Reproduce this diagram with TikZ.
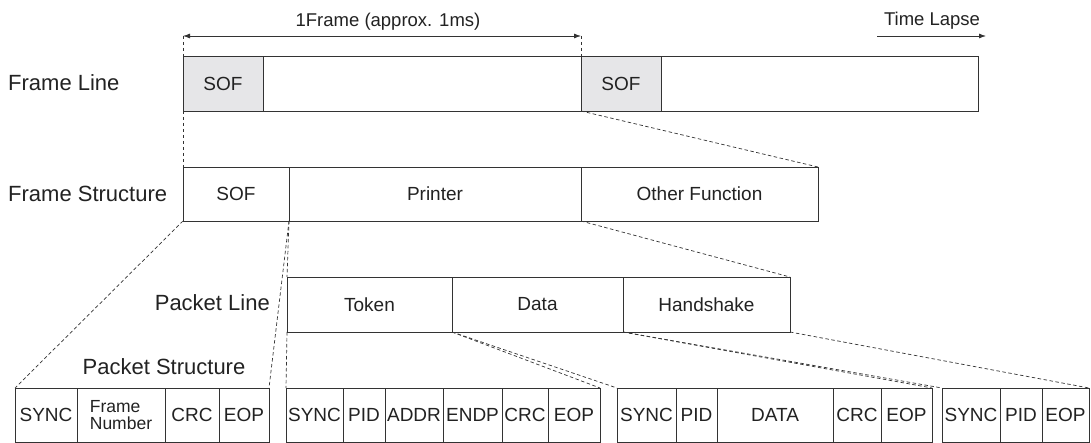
\documentclass[tikz,border=0pt]{standalone}
\usepackage{fontspec}
\setmainfont{Liberation Sans}
\usetikzlibrary{arrows.meta}
\definecolor{ln}{HTML}{333333}
\definecolor{sofgray}{HTML}{E6E6E8}
\definecolor{txt}{HTML}{222222}
\newcommand{\cellbox}[7][]{\node[box,#1,minimum width={#4pt-#3pt},minimum height={#6pt-#5pt}] (#2) at (#3,#5) {#7};}
\begin{document}
\begin{tikzpicture}[x=1pt,y=-1pt,
  box/.style={draw=ln,line width=0.8pt,inner sep=0pt,outer sep=0pt,anchor=north west,
    font=\fontsize{19}{19}\selectfont,text=txt},
  sof/.style={fill=sofgray},
  small/.style={align=left,font=\fontsize{17.5}{16.5}\selectfont},
  dsh/.style={draw=ln,line width=0.7pt,dash pattern=on 3.5pt off 2.5pt},
  lbl/.style={font=\fontsize{22}{22}\selectfont,text=txt,inner sep=0pt},
  hdr/.style={font=\fontsize{18.5}{18.5}\selectfont,text=txt,inner sep=0pt},
  arr/.style={draw=ln,line width=0.8pt}]
\clip (0,0) rectangle (1091,443);
\fill[white] (0,0) rectangle (1091,443);

% header
\node[hdr] (t1) at (388,22) {1Frame (approx. 1ms)};
\node[hdr] (t2) at (932,21) {Time Lapse};
\coordinate (fa) at (183,36);
\coordinate (fb) at (581,36);
\coordinate (tla) at (877,36);
\coordinate (tlb) at (986,36);
\draw[arr,{Latex[length=7pt,width=5pt]}-{Latex[length=7pt,width=5pt]}] (fa) -- (fb);
\draw[arr,-{Latex[length=7pt,width=5pt]}] (tla) -- (tlb);

% labels
\node[lbl,anchor=west] (l1) at (8,83) {Frame Line};
\node[lbl,anchor=west] (l2) at (8,194) {Frame Structure};
\node[lbl,anchor=east] (l3) at (270,303) {Packet Line};
\node[lbl] (l4) at (164,367) {Packet Structure};

% frame line
\cellbox[sof]{fsof1}{183}{263}{56}{111}{SOF}
\cellbox{fmid}{263}{581}{56}{111}{}
\cellbox[sof]{fsof2}{581}{661}{56}{111}{SOF}
\cellbox{frest}{661}{978}{56}{111}{}

% frame structure
\cellbox{ssof}{183}{289}{167}{221}{SOF}
\cellbox{sprint}{289}{581}{167}{221}{Printer}
\cellbox{sother}{581}{818}{167}{221}{Other Function}

% packet line
\cellbox{ptok}{287}{452}{277}{332}{Token}
\cellbox{pdata}{452}{623}{277}{332}{Data}
\cellbox{phs}{623}{790}{277}{332}{Handshake}

% packet structures
\cellbox{a1}{15}{77}{388}{442}{SYNC}
\cellbox[small]{a2}{77}{165}{388}{442}{Frame\\Number}
\cellbox{a3}{165}{219}{388}{442}{CRC}
\cellbox{a4}{219}{269}{388}{442}{EOP}

\cellbox{b1}{286}{343}{388}{442}{SYNC}
\cellbox{b2}{343}{385}{388}{442}{PID}
\cellbox{b3}{385}{443}{388}{442}{ADDR}
\cellbox{b4}{443}{502}{388}{442}{ENDP}
\cellbox{b5}{502}{548}{388}{442}{CRC}
\cellbox{b6}{548}{600}{388}{442}{EOP}

\cellbox{c1}{617}{676}{388}{442}{SYNC}
\cellbox{c2}{676}{717}{388}{442}{PID}
\cellbox{c3}{717}{833}{388}{442}{DATA}
\cellbox{c4}{833}{881}{388}{442}{CRC}
\cellbox{c5}{881}{932}{388}{442}{EOP}

\cellbox{d1}{942}{1000}{388}{442}{SYNC}
\cellbox{d2}{1000}{1042}{388}{442}{PID}
\cellbox{d3}{1042}{1089}{388}{442}{EOP}

% dashed connectors
\draw[dsh] (fa) -- (fsof1.north west);
\draw[dsh] (fb) -- (fsof2.north west);
\draw[dsh] (fsof1.south west) -- (ssof.north west);
\draw[dsh] (fsof2.south west) -- (sother.north east);
\draw[dsh] (ssof.south west) -- (a1.north west);
\draw[dsh] (ssof.south east) -- (a4.north east);
\draw[dsh] (sprint.south west) -- (ptok.north west);
\draw[dsh] (sprint.south east) -- (phs.north east);
\draw[dsh] (ptok.south west) -- (b1.north west);
\draw[dsh] (ptok.south east) -- (b6.north east);
\draw[dsh] (pdata.south west) -- (c1.north west);
\draw[dsh] (pdata.south east) -- (c5.north east);
\draw[dsh] (phs.south west) -- (d1.north west);
\draw[dsh] (phs.south east) -- (d3.north east);
\end{tikzpicture}
\end{document}
